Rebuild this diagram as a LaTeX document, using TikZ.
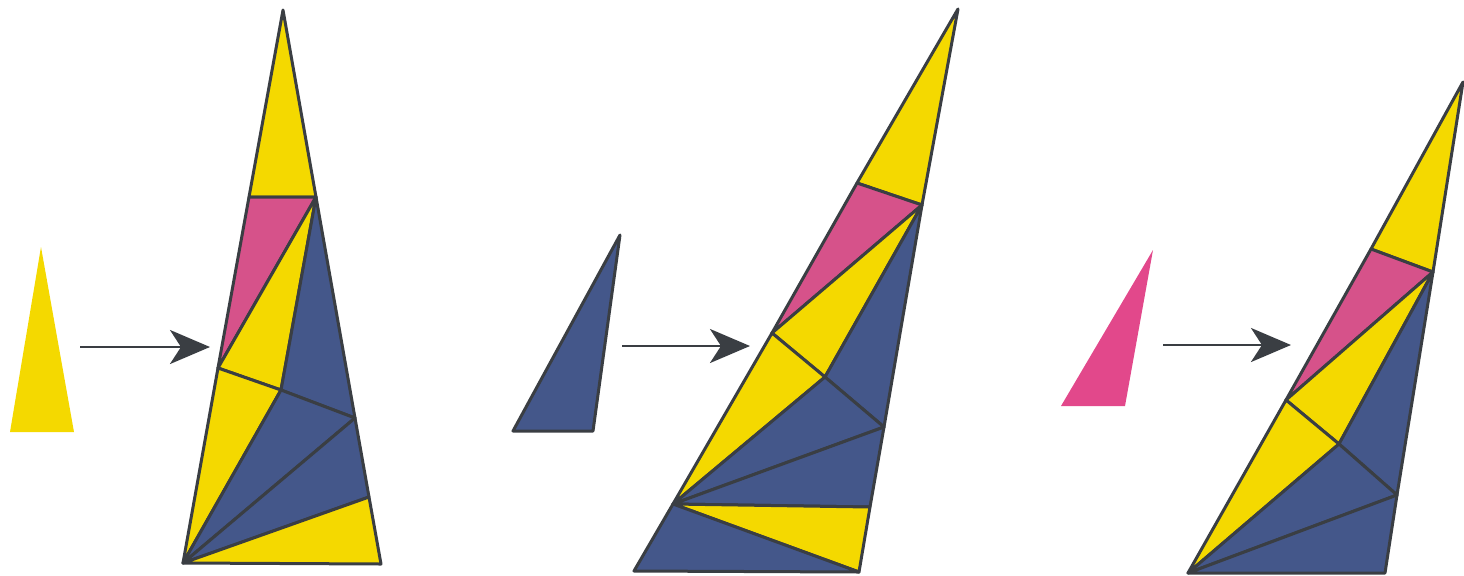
\documentclass[tikz,border=0pt]{standalone}
\usetikzlibrary{arrows.meta}
\definecolor{ylw}{HTML}{F4D900}
\definecolor{nvy}{HTML}{44578A}
\definecolor{pnk}{HTML}{D6528A}
\definecolor{pnkl}{HTML}{E2488B}
\definecolor{ink}{HTML}{3A3E43}
\begin{document}
\begin{tikzpicture}[x=0.5pt,y=-0.5pt,
  piece/.style={draw=ink,line width=1.5pt,line join=round},
  flow/.style={draw=ink,line width=1.4pt,-{Stealth[length=20pt,width=17pt,inset=5.5pt]}}]
\useasboundingbox (0,0) rectangle (1464,575);
% ---------- small source triangles ----------
\fill[ylw] (41,247) -- (10,432) -- (74,432) -- cycle;
\filldraw[piece,fill=nvy] (620,235) -- (513,431) -- (593,431) -- cycle;
\fill[pnkl] (1153,250) -- (1061,406) -- (1125,406) -- cycle;
% ---------- arrows ----------
\coordinate (s1) at (80,347);   \coordinate (t1) at (210,347);
\coordinate (s2) at (622,346);  \coordinate (t2) at (750,346);
\coordinate (s3) at (1163,345); \coordinate (t3) at (1291,345);
\draw[flow] (s1) -- (t1);
\draw[flow] (s2) -- (t2);
\draw[flow] (s3) -- (t3);
% ---------- big triangle 1 ----------
\coordinate (A1) at (283,10);  \coordinate (B1) at (183,563); \coordinate (C1) at (381,564);
\coordinate (a) at (249,197);  \coordinate (b) at (316,197);  \coordinate (c) at (218,368);
\coordinate (q) at (281,390);  \coordinate (r) at (355,418);  \coordinate (s) at (369,497);
\filldraw[piece,fill=ylw] (A1) -- (a) -- (b) -- cycle;
\filldraw[piece,fill=pnk] (a) -- (b) -- (c) -- cycle;
\filldraw[piece,fill=ylw] (b) -- (c) -- (q) -- cycle;
\filldraw[piece,fill=nvy] (b) -- (q) -- (r) -- cycle;
\filldraw[piece,fill=ylw] (c) -- (q) -- (B1) -- cycle;
\filldraw[piece,fill=nvy] (q) -- (r) -- (B1) -- cycle;
\filldraw[piece,fill=nvy] (r) -- (s) -- (B1) -- cycle;
\filldraw[piece,fill=ylw] (s) -- (C1) -- (B1) -- cycle;
% ---------- big triangle 2 ----------
\coordinate (A2) at (958,9);   \coordinate (B2) at (634,571); \coordinate (C2) at (859,572);
\coordinate (d) at (857,183);  \coordinate (e) at (922,205);  \coordinate (f) at (772,333);
\coordinate (g) at (825,377);  \coordinate (h) at (884,427);  \coordinate (i) at (673,504);
\coordinate (j) at (870,507);
\filldraw[piece,fill=ylw] (A2) -- (d) -- (e) -- cycle;
\filldraw[piece,fill=pnk] (d) -- (e) -- (f) -- cycle;
\filldraw[piece,fill=ylw] (e) -- (f) -- (g) -- cycle;
\filldraw[piece,fill=nvy] (e) -- (g) -- (h) -- cycle;
\filldraw[piece,fill=ylw] (f) -- (g) -- (i) -- cycle;
\filldraw[piece,fill=nvy] (g) -- (h) -- (i) -- cycle;
\filldraw[piece,fill=nvy] (h) -- (j) -- (i) -- cycle;
\filldraw[piece,fill=ylw] (i) -- (j) -- (C2) -- cycle;
\filldraw[piece,fill=nvy] (i) -- (C2) -- (B2) -- cycle;
% ---------- big triangle 3 ----------
\coordinate (A3) at (1463,82); \coordinate (B3) at (1188,573); \coordinate (C3) at (1385,573);
\coordinate (k) at (1371,249); \coordinate (l) at (1433,272); \coordinate (m) at (1286,400);
\coordinate (n) at (1339,444); \coordinate (o) at (1397,495);
\filldraw[piece,fill=ylw] (A3) -- (k) -- (l) -- cycle;
\filldraw[piece,fill=pnk] (k) -- (l) -- (m) -- cycle;
\filldraw[piece,fill=ylw] (l) -- (m) -- (n) -- cycle;
\filldraw[piece,fill=nvy] (l) -- (n) -- (o) -- cycle;
\filldraw[piece,fill=ylw] (m) -- (n) -- (B3) -- cycle;
\filldraw[piece,fill=nvy] (n) -- (o) -- (B3) -- cycle;
\filldraw[piece,fill=nvy] (o) -- (C3) -- (B3) -- cycle;
\end{tikzpicture}
\end{document}
